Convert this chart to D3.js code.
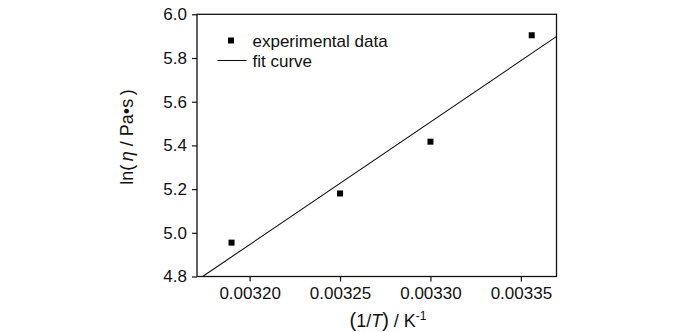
<!DOCTYPE html>
<html><head><meta charset="utf-8">
<script src="https://cdn.jsdelivr.net/npm/d3@7"></script>
<style>body{margin:0;background:#fff}svg{display:block}text{font-family:"Liberation Sans",Arial,sans-serif;fill:#111}</style>
</head><body><svg id="c" width="700" height="332"></svg>
<script>
const expX = [0.00319, 0.00325, 0.00330, 0.003356];
const expY = [4.955, 5.18, 5.417, 5.904];
const fitX = [0.003174, 0.00337];
const fitY = [4.80, 5.90];
const xTicks = [0.00320, 0.00325, 0.00330, 0.00335];
const yTicks = [4.8, 5.0, 5.2, 5.4, 5.6, 5.8, 6.0];
const xDomain = [0.0031709, 0.0033697];
const yDomain = [4.8, 6.0];

const svg = d3.select("#c");
const L = 197, R = 556.5, T = 14.3, B = 276.5;
const x = d3.scaleLinear().domain(xDomain).range([L, R]);
const y = d3.scaleLinear().domain(yDomain).range([B, T]);
const fs = "17px";

svg.append("clipPath").attr("id","clip").append("rect").attr("x",L).attr("y",T).attr("width",R-L).attr("height",B-T);

const xa = svg.append("g").attr("transform",`translate(0,${B})`)
  .call(d3.axisBottom(x).tickValues(xTicks).tickFormat(d3.format(".5f")).tickSizeInner(5).tickSizeOuter(0).tickPadding(5));
const ya = svg.append("g").attr("transform",`translate(${L},0)`)
  .call(d3.axisLeft(y).tickValues(yTicks).tickFormat(d3.format(".1f")).tickSizeInner(5).tickSizeOuter(0).tickPadding(5));
[xa, ya].forEach(a => {
  a.select(".domain").remove();
  a.selectAll("line").attr("stroke","#111").attr("stroke-width",1.2);
  a.selectAll("text").style("font-size",fs).style("font-family",'"Liberation Sans",Arial,sans-serif').attr("fill","#111");
});

svg.append("rect").attr("x",L).attr("y",T).attr("width",R-L).attr("height",B-T)
  .attr("fill","none").attr("stroke","#111").attr("stroke-width",1.3);

svg.append("line").attr("clip-path","url(#clip)")
  .attr("x1",x(fitX[0])).attr("y1",y(fitY[0])).attr("x2",x(fitX[1])).attr("y2",y(fitY[1]))
  .attr("stroke","#111").attr("stroke-width",1.1);

svg.selectAll("rect.pt").data(expX).enter().append("rect").attr("class","pt")
  .attr("x",(d)=>x(d)-3).attr("y",(d,i)=>y(expY[i])-3).attr("width",6).attr("height",6).attr("fill","#000");

// legend
svg.append("rect").attr("x",228).attr("y",37.5).attr("width",6).attr("height",6).attr("fill","#000");
svg.append("text").attr("x",252.5).attr("y",46.5).style("font-size",fs).text("experimental data");
svg.append("line").attr("x1",217.5).attr("x2",246.5).attr("y1",60.5).attr("y2",60.5).attr("stroke","#111").attr("stroke-width",1.1);
svg.append("text").attr("x",252.5).attr("y",66.5).style("font-size",fs).text("fit curve");

// axis titles
const xt = svg.append("text").attr("x",388).attr("y",327).attr("text-anchor","middle").style("font-size","18px");
xt.append("tspan").style("font-size","20px").text("(");
xt.append("tspan").text("1/");
xt.append("tspan").style("font-style","italic").text("T");
xt.append("tspan").style("font-size","20px").text(")");
xt.append("tspan").text(" / K");
xt.append("tspan").attr("dy",-7).style("font-size","12px").text("-1");

const yt = svg.append("text").attr("transform","translate(133,137) rotate(-90)").attr("text-anchor","middle").style("font-size","18px");
yt.append("tspan").text("ln(\u2009");
yt.append("tspan").style("font-style","italic").text("η");
yt.append("tspan").text(" / Pa\u2022s\u2009)");
</script></body></html>
